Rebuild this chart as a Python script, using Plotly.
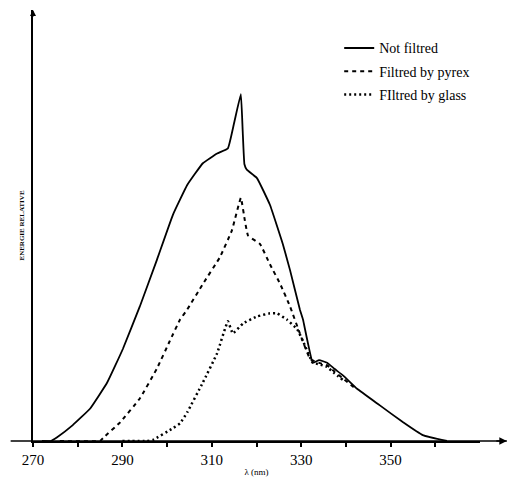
import plotly.graph_objects as go

# Wavelength (nm) and relative intensity for each spectrum
wl_not = [272, 274, 275.4, 278.9, 282.8, 286.6, 290.1, 293.9, 297.7, 301.3, 304.5, 308.0,
          311.2, 313.6, 315.0, 316.5, 316.9, 317.3, 317.8, 320.1, 323.0, 325.9, 327.5,
          329.7, 330.4, 332.6, 334.0, 335.8, 337.5, 339.4, 342.5, 347.6, 352.8, 357.2, 362.6]
int_not = [0, 0, 1.1, 4.6, 9.4, 16.9, 26.6, 38.9, 52.3, 65.4, 74.0, 80.3,
           83.1, 84.6, 92.0, 100.3, 90.0, 80.0, 78.5, 76.0, 68.3, 56.9, 49.4,
           38.0, 35.1, 22.6, 23.4, 22.6, 20.8, 18.9, 15.1, 10.3, 5.4, 1.7, 0]

wl_pyrex = [276, 285.0, 285.7, 289.5, 293.9, 297.7, 300.6, 302.9, 304.5, 308.0, 311.8,
            314.5, 316.5, 317.4, 318.1, 320.8, 323.0, 325.3, 327.5, 329.7, 332.0,
            334.0, 335.8, 337.5, 339.4, 342.5]
int_pyrex = [0, 0, 0.9, 5.4, 12.3, 20.9, 28.9, 35.1, 38.0, 45.4, 53.1,
             60.9, 70.3, 63.7, 59.4, 56.9, 51.1, 45.4, 38.9, 31.1, 23.7,
             22.6, 21.9, 20.0, 18.0, 14.8]

wl_glass = [290, 295.5, 296.8, 301.3, 302.9, 304.5, 308.0, 311.2, 313.6, 314.7, 317.0,
            320.1, 323.0, 324.6, 326.8, 329.1, 330.4, 332.6, 334.0, 335.8, 337.5, 339.4]
int_glass = [0, 0, 0.3, 3.7, 5.1, 8.3, 16.9, 25.4, 34.6, 31.1, 34.0,
             36.0, 36.9, 36.9, 35.1, 32.3, 28.9, 22.6, 22.2, 21.4, 19.5, 17.6]

tick_vals = [270, 280, 290, 300, 310, 320, 330, 340, 350, 360]
tick_text = ["270", "", "290", "", "310", "", "330", "", "350", ""]

names = ["Not filtred", "Filtred by pyrex", "FIltred by glass"]

fig = go.Figure()
fig.add_trace(go.Scatter(x=wl_not, y=int_not, mode="lines", name=names[0], legendgroup="a",
                         line=dict(color="black", width=1.8, shape="spline", smoothing=0.3)))
fig.add_trace(go.Scatter(x=wl_pyrex, y=int_pyrex, mode="lines", name=names[1], legendgroup="b",
                         line=dict(color="black", width=2, dash="4px,4px",
                                   shape="spline", smoothing=0.3)))
fig.add_trace(go.Scatter(x=wl_glass, y=int_glass, mode="lines", name=names[2], legendgroup="c",
                         line=dict(color="black", width=2.5, dash="2px,3px",
                                   shape="spline", smoothing=0.3)))

serif = "Liberation Serif, DejaVu Serif, serif"

fig.update_layout(
    width=517, height=486,
    margin=dict(l=33, r=37, t=10, b=40),
    paper_bgcolor="white", plot_bgcolor="white",
    showlegend=True,
    legend=dict(x=0.685, y=0.948, xanchor="left", yanchor="top",
                font=dict(family=serif, size=14, color="black"),
                bgcolor="rgba(0,0,0,0)", tracegroupgap=2, itemwidth=30),
    xaxis=dict(range=[270, 370], showgrid=False, zeroline=False,
               showline=True, linecolor="black", linewidth=1.5,
               ticks="outside", ticklen=4, tickcolor="black", tickwidth=2,
               tickvals=tick_vals, ticktext=tick_text,
               tickfont=dict(family=serif, size=15, color="black"),
               title=dict(text="λ (nm)", font=dict(family=serif, size=9, color="black"),
                          standoff=2)),
    yaxis=dict(range=[0, 124.6], showgrid=False, zeroline=False,
               showline=True, linecolor="black", linewidth=2,
               showticklabels=False, ticks="",
               title=dict(text="<b>ENERGIE RELATIVE</b>",
                          font=dict(family=serif, size=7, color="black"), standoff=6)),
)

# axis extension and arrow on the x axis
fig.add_shape(type="line", xref="paper", yref="paper", x0=-0.05, x1=1.06, y0=0, y1=0,
              line=dict(color="black", width=1.5))
fig.add_annotation(xref="paper", yref="paper", x=1.06, y=0, ax=-12, ay=0,
                   showarrow=True, arrowhead=2, arrowsize=1, arrowwidth=1.5,
                   arrowcolor="black", text="")
fig.add_annotation(xref="paper", yref="paper", x=0, y=1.0, ax=0, ay=8,
                   showarrow=True, arrowhead=2, arrowsize=0.8, arrowwidth=1.5,
                   arrowcolor="black", text="")

fig.write_html("out.html")
